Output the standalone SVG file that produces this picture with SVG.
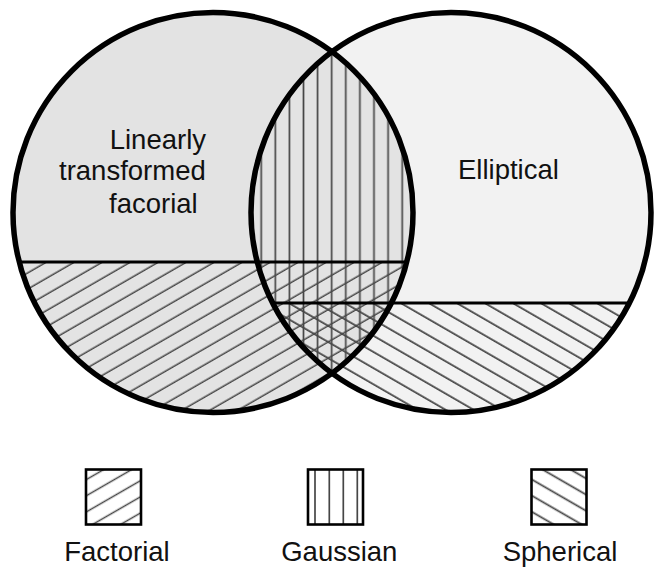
<svg xmlns="http://www.w3.org/2000/svg" width="664" height="578" viewBox="0 0 664 578">
  <style>
    .lbl { font-family: "Liberation Sans", Arial, Helvetica, sans-serif; font-size: 27.5px; fill: #111; }
    .outline { fill: none; stroke: #000; stroke-width: 5.5; }
    .divider { stroke: #000; stroke-width: 3; }
    .hatch { stroke: #464646; stroke-width: 1.7; }
    .box { fill: none; stroke: #000; stroke-width: 2.6; }
  </style>
  <defs>
    <clipPath id="clipL"><circle cx="213" cy="212.5" r="200"/></clipPath>
    <clipPath id="clipR"><circle cx="451" cy="212.5" r="200"/></clipPath>
    <pattern id="fac" patternUnits="userSpaceOnUse" width="40" height="14" patternTransform="rotate(-30)">
      <line class="hatch" x1="-5" y1="12.25" x2="45" y2="12.25"/>
    </pattern>
    <pattern id="sph" patternUnits="userSpaceOnUse" width="40" height="14" patternTransform="rotate(30)">
      <line class="hatch" x1="-5" y1="6.1" x2="45" y2="6.1"/>
    </pattern>
    <pattern id="gau" patternUnits="userSpaceOnUse" x="324.65" y="0" width="14.1" height="20">
      <line class="hatch" x1="7.05" y1="-5" x2="7.05" y2="25"/>
    </pattern>
    <pattern id="facL" patternUnits="userSpaceOnUse" width="40" height="14" patternTransform="rotate(-30)">
      <line class="hatch" x1="-5" y1="10.5" x2="45" y2="10.5"/>
    </pattern>
    <pattern id="sphL" patternUnits="userSpaceOnUse" width="40" height="14" patternTransform="rotate(30)">
      <line class="hatch" x1="-5" y1="9.3" x2="45" y2="9.3"/>
    </pattern>
  </defs>
  <rect width="664" height="578" fill="#fff"/>

  <g id="right-ellipse-fill">
    <circle cx="451" cy="212.5" r="200" fill="#f2f2f2"/>
  </g>
  <g id="left-ellipse-fill">
    <circle cx="213" cy="212.5" r="200" fill="#e3e3e3"/>
  </g>

  <g id="factorial-region">
    <rect x="0" y="262" width="420" height="160" fill="url(#fac)" clip-path="url(#clipL)"/>
  </g>
  <g id="spherical-region">
    <rect x="240" y="303" width="424" height="120" fill="url(#sph)" clip-path="url(#clipR)"/>
  </g>
  <g id="gaussian-region" clip-path="url(#clipL)">
    <circle cx="451" cy="212.5" r="200" fill="url(#gau)"/>
  </g>

  <g id="dividers">
    <line class="divider" x1="19" y1="262" x2="407" y2="262"/>
    <line class="divider" x1="271" y1="303" x2="629" y2="303"/>
  </g>

  <g id="left-ellipse">
    <circle class="outline" cx="213" cy="212.5" r="200"/>
    <text class="lbl" x="206" y="149" text-anchor="end">Linearly</text>
    <text class="lbl" x="59" y="180">transformed</text>
    <text class="lbl" x="109" y="213">facorial</text>
  </g>
  <g id="right-ellipse">
    <circle class="outline" cx="451" cy="212.5" r="200"/>
    <text class="lbl" x="458" y="179">Elliptical</text>
  </g>

  <g id="legend-factorial">
    <rect x="86" y="469.5" width="55" height="55" fill="#fff"/>
    <rect x="86" y="469.5" width="55" height="55" fill="url(#facL)"/>
    <rect class="box" x="86" y="469.5" width="55" height="55"/>
    <text class="lbl" x="117" y="561" text-anchor="middle">Factorial</text>
  </g>
  <g id="legend-gaussian">
    <rect x="308" y="469.5" width="55" height="55" fill="#fff"/>
    <line class="hatch" x1="315" y1="469.5" x2="315" y2="524.5"/>
    <line class="hatch" x1="329.3" y1="469.5" x2="329.3" y2="524.5"/>
    <line class="hatch" x1="343.3" y1="469.5" x2="343.3" y2="524.5"/>
    <line class="hatch" x1="357.3" y1="469.5" x2="357.3" y2="524.5"/>
    <rect class="box" x="308" y="469.5" width="55" height="55"/>
    <text class="lbl" x="339.3" y="561" text-anchor="middle">Gaussian</text>
  </g>
  <g id="legend-spherical">
    <rect x="531.5" y="469.5" width="55" height="55" fill="#fff"/>
    <rect x="531.5" y="469.5" width="55" height="55" fill="url(#sphL)"/>
    <rect class="box" x="531.5" y="469.5" width="55" height="55"/>
    <text class="lbl" x="560" y="561" text-anchor="middle">Spherical</text>
  </g>
</svg>
